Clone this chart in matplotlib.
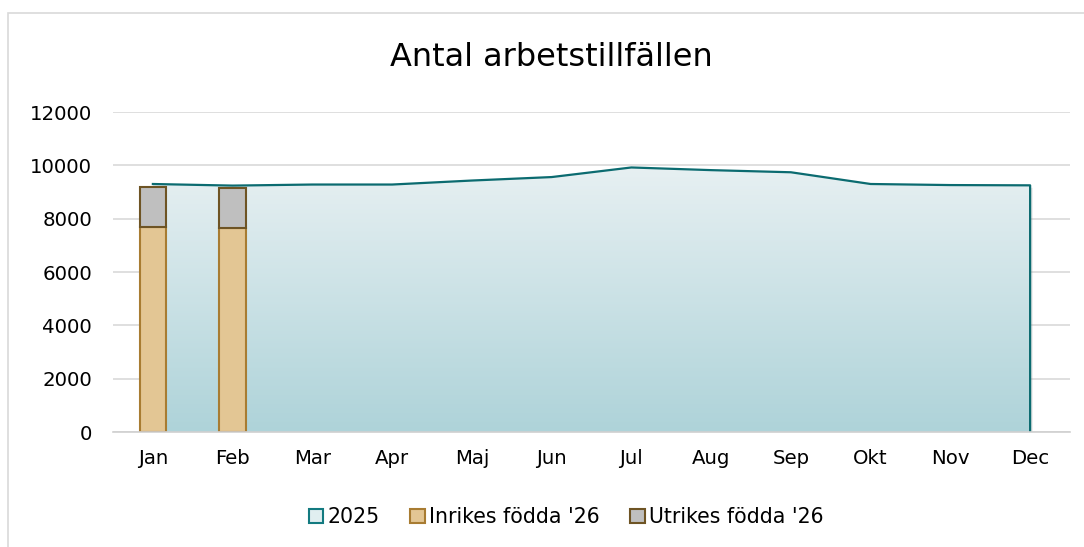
import matplotlib
matplotlib.use("Agg")
import matplotlib.pyplot as plt
import numpy as np
import matplotlib.transforms as mtransforms
from matplotlib.patches import Rectangle, Polygon, Patch
from matplotlib.colors import LinearSegmentedColormap

months = ["Jan", "Feb", "Mar", "Apr", "Maj", "Jun", "Jul", "Aug", "Sep", "Okt", "Nov", "Dec"]
values_2025 = [9300, 9240, 9280, 9280, 9430, 9560, 9920, 9820, 9740, 9300, 9260, 9250]
inrikes_26 = [7700, 7660]
utrikes_26 = [1500, 1480]
yticks = [0, 2000, 4000, 6000, 8000, 10000, 12000]

plt.rcParams['font.family'] = ['DejaVu Sans']

fig = plt.figure(figsize=(10.84, 5.47), dpi=100)
ax = fig.add_axes([113 / 1084, 1 - 432 / 547, (1070 - 113) / 1084, 320 / 547])

x = np.arange(len(months))
ax.set_xlim(-0.5, len(months) - 0.5)
ax.set_ylim(0, 12000)

verts = [(x[0], 0)] + list(zip(x, values_2025)) + [(x[-1], 0)]

# soft shadow
shadow_tr = ax.transData + mtransforms.ScaledTranslation(2.5 / 100, -2.5 / 100, fig.dpi_scale_trans)
ax.add_patch(Polygon(verts, closed=True, facecolor="#9a9a9a", edgecolor="none", alpha=0.25,
                     transform=shadow_tr, zorder=1))

# gradient area
cmap = LinearSegmentedColormap.from_list("g", ["#aed3d9", "#e7f0f2"])
grad = np.linspace(0, 1, 256).reshape(-1, 1)
ymax = max(values_2025)
im = ax.imshow(grad, cmap=cmap, aspect="auto", origin="lower",
               extent=(x[0], x[-1], 0, ymax), zorder=2)
poly = Polygon(verts, closed=True, facecolor="none", edgecolor="none")
ax.add_patch(poly)
im.set_clip_path(poly)
ax.plot(list(x) + [x[-1]], values_2025 + [0], color="#0b6b70", lw=1.6, zorder=3)

# bars
bx = x[:len(inrikes_26)]
ax.bar(bx, inrikes_26, width=0.33, color="#e3c694", edgecolor="#a87c32", lw=1.5, zorder=4)
ax.bar(bx, utrikes_26, bottom=inrikes_26, width=0.33, color="#bfbfbf", edgecolor="#6e5424", lw=1.5, zorder=4)

ax.set_yticks(yticks)
ax.set_yticklabels([str(v) for v in yticks], fontsize=14.2)
ax.set_xticks(x)
ax.set_xticklabels(months, fontsize=14.2)
ax.tick_params(length=0)
ax.tick_params(axis="x", pad=12)
ax.tick_params(axis="y", pad=15)
ax.grid(axis="y", color="#d9d9d9", lw=1.2, zorder=0)
ax.set_axisbelow(True)
for s in ["top", "right", "left"]:
    ax.spines[s].set_visible(False)
ax.spines["bottom"].set_color("#d0d0d0")
ax.spines["bottom"].set_linewidth(1.2)
ax.spines["bottom"].set_zorder(5)

fig.text(551 / 1084, 1 - 58 / 547, "Antal arbetstillfällen", ha="center", va="center", fontsize=23)

# legend
handles = [Patch(facecolor="#e0eef0", edgecolor="#137a80", lw=1.5, label="2025"),
           Patch(facecolor="#e3c694", edgecolor="#a87c32", lw=1.5, label="Inrikes födda '26"),
           Patch(facecolor="#bfbfbf", edgecolor="#6e5424", lw=1.5, label="Utrikes födda '26")]
fig.legend(handles=handles, loc="center", bbox_to_anchor=(566 / 1084, 1 - 517 / 547), ncol=3, frameon=False,
           fontsize=14.8, handlelength=0.7, handleheight=0.7, handletextpad=0.2, columnspacing=1.5)

# outer frame
fig.patches.append(Rectangle((8 / 1084, -0.1), 1.2, (547 - 13) / 547 + 0.1, transform=fig.transFigure,
                             facecolor="none", edgecolor="#d9d9d9", lw=1.2))

fig.savefig("out.png", dpi=100)
